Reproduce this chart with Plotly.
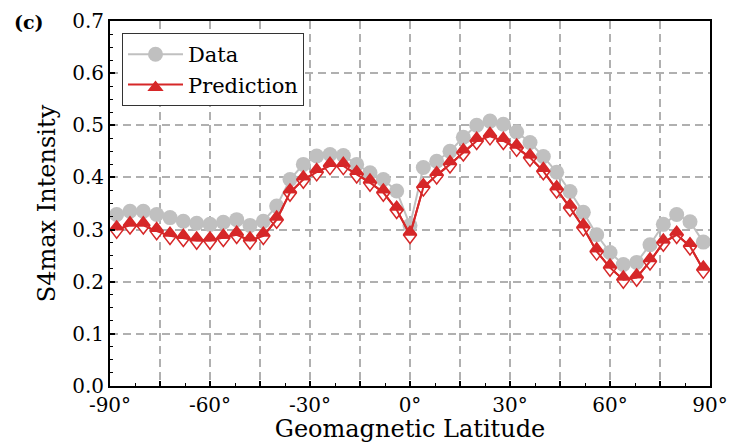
import plotly.graph_objects as go

latitude = list(range(-88, 89, 4))

data_values = [0.329, 0.335, 0.335, 0.329, 0.323, 0.316, 0.312, 0.310, 0.314, 0.319,
               0.308, 0.316, 0.345, 0.396, 0.425, 0.441, 0.444, 0.442, 0.425, 0.409,
               0.396, 0.374, 0.308,
               0.419, 0.431, 0.450, 0.477, 0.500, 0.508, 0.502, 0.487, 0.467, 0.440,
               0.410, 0.373, 0.333, 0.290, 0.256, 0.233, 0.237, 0.271, 0.310, 0.329,
               0.315, 0.276]

prediction_values = [0.300, 0.308, 0.308, 0.297, 0.288, 0.284, 0.279, 0.279, 0.284, 0.290,
                     0.279, 0.288, 0.319, 0.371, 0.396, 0.410, 0.422, 0.422, 0.406, 0.390,
                     0.371, 0.338, 0.290,
                     0.381, 0.404, 0.425, 0.448, 0.470, 0.479, 0.470, 0.457, 0.438, 0.412,
                     0.377, 0.342, 0.304, 0.258, 0.227, 0.204, 0.208, 0.239, 0.275, 0.290,
                     0.268, 0.223]

x_tickvals = list(range(-90, 91, 15))
x_ticktext = [f"{v}°" if v % 30 == 0 else "" for v in x_tickvals]
y_tickvals = [round(0.1 * i, 1) for i in range(8)]
y_ticktext = [f"{v:.1f}" for v in y_tickvals]

RED = "#d62728"
GRAY = "#c0c0c0"
FONT = "DejaVu Serif"

fig = go.Figure()

fig.add_trace(go.Scatter(
    x=latitude, y=data_values, mode="lines+markers", name="Data",
    line=dict(color=GRAY, width=2),
    marker=dict(symbol="circle", size=15, color=GRAY),
))

fig.add_trace(go.Scatter(
    x=latitude, y=prediction_values, mode="lines", name="Prediction",
    line=dict(color=RED, width=2), showlegend=False,
))
# lower hollow half (points down, shifted down)
fig.add_trace(go.Scatter(
    x=latitude, y=prediction_values, mode="markers", name="Prediction",
    marker=dict(symbol="triangle-down", size=11.5, angle=0, standoff=2.9,
                color="white", line=dict(color=RED, width=1.5)),
    showlegend=False,
))
# upper filled half (points up, shifted up)
fig.add_trace(go.Scatter(
    x=latitude, y=prediction_values, mode="lines+markers", name="Prediction",
    line=dict(color=RED, width=2),
    marker=dict(symbol="triangle-down", size=11.5, angle=180, standoff=2.9,
                color=RED, line=dict(color=RED, width=1.5)),
))

axis_common = dict(
    showline=True, linecolor="black", linewidth=2, mirror=True,
    ticks="inside", ticklen=5, tickwidth=1.5, tickcolor="black",
    showgrid=True, gridcolor="#b0b0b0", gridwidth=1.5, griddash="8px,5px",
    zeroline=False, automargin=False,
    tickfont=dict(family=FONT, size=20, color="black"),
)

fig.update_xaxes(
    range=[-90, 90], tickmode="array", tickvals=x_tickvals, ticktext=x_ticktext,
    minor=dict(dtick=7.5, tick0=-90, ticks="inside", ticklen=3, tickwidth=1.2,
               tickcolor="black", showgrid=False),
    title=dict(text="Geomagnetic Latitude", font=dict(family=FONT, size=24, color="black"),
               standoff=4),
    **axis_common,
)
fig.update_yaxes(
    range=[0, 0.7], tickmode="array", tickvals=y_tickvals, ticktext=y_ticktext,
    minor=dict(dtick=0.025, tick0=0, ticks="inside", ticklen=3, tickwidth=1.2,
               tickcolor="black", showgrid=False),
    title=dict(text="S4max Intensity", font=dict(family=FONT, size=24, color="black"),
               standoff=10),
    **axis_common,
)

fig.update_layout(
    width=731, height=435,
    margin=dict(l=102, r=29, t=13, b=57),
    paper_bgcolor="white", plot_bgcolor="white",
    showlegend=True,
    legend=dict(x=0.02, y=0.967, xanchor="left", yanchor="top",
                bgcolor="white", bordercolor="#333333", borderwidth=1,
                font=dict(family=FONT, size=21, color="black"),
                itemwidth=55, tracegroupgap=0),
    annotations=[dict(text="<b>(c)</b>", xref="paper", yref="paper",
                      x=-0.163, y=1.034, xanchor="left", yanchor="top",
                      showarrow=False, font=dict(family=FONT, size=19, color="black"))],
)

fig.write_html("out.html")
